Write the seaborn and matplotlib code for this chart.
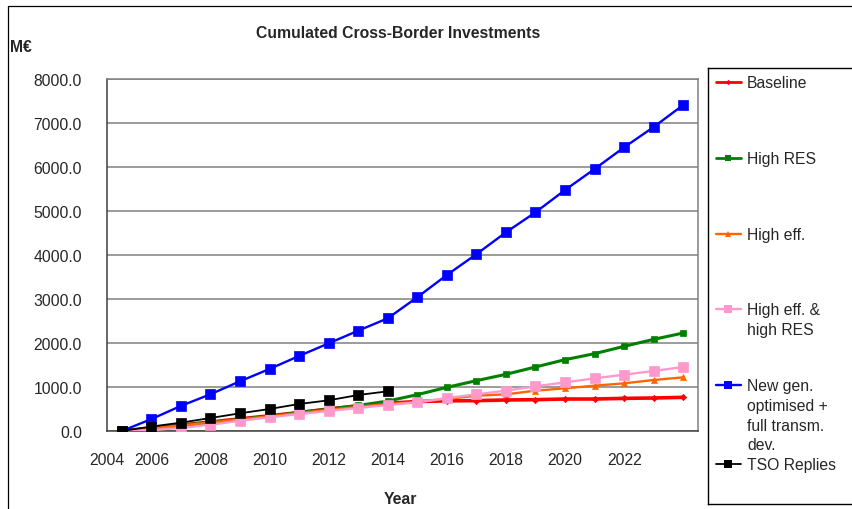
import matplotlib
matplotlib.use("Agg")
import matplotlib.pyplot as plt
from matplotlib.patches import Rectangle
import seaborn as sns
import numpy as np

# Scenario data (M€, cumulated)
years = list(range(2005, 2025))
tso_years = list(range(2005, 2015))

baseline = [0, 65, 135, 205, 275, 345, 420, 500, 570, 630, 670, 685, 690, 705, 712, 727, 727, 742, 750, 765]
high_res = [0, 60, 125, 195, 265, 340, 420, 500, 580, 680, 826, 992, 1144, 1288, 1455, 1621, 1758, 1924, 2083, 2227]
high_eff = [0, 60, 125, 195, 265, 335, 410, 480, 550, 615, 660, 727, 803, 833, 917, 970, 1030, 1083, 1159, 1220]
high_eff_res = [0, 20, 70, 143, 235, 310, 386, 455, 523, 590, 651, 750, 833, 917, 1015, 1106, 1197, 1280, 1364, 1455]
new_gen = [0, 270, 570, 835, 1130, 1410, 1705, 1992, 2280, 2561, 3040, 3545, 4018, 4515, 4970, 5477, 5955, 6447, 6909, 7409]
tso_replies = [0, 100, 190, 295, 402, 500, 614, 697, 818, 902]

series_labels = ["Baseline", "High RES", "High eff.", "High eff. &\nhigh RES",
                 "New gen.\noptimised +\nfull transm.\ndev.", "TSO Replies"]
series_x = [years, years, years, years, years, tso_years]
series_y = [baseline, high_res, high_eff, high_eff_res, new_gen, tso_replies]
series_colors = ["#ff0000", "#008000", "#ff6600", "#ff99cc", "#0000ff", "#000000"]
series_markers = ["D", "s", "^", "s", "s", "s"]
series_msize = [3.2, 4.5, 4.5, 7.0, 7.0, 7.0]
series_lw = [2.6, 2.2, 1.7, 1.7, 1.7, 1.3]

x_tick_labels = ["2004", "2006", "2008", "2010", "2012", "2014", "2016", "2018", "2020", "2022"]
x_label_pos = [2004.5, 2006, 2008, 2010, 2012, 2014, 2016, 2018, 2020, 2022]
y_ticks = [0, 1000, 2000, 3000, 4000, 5000, 6000, 7000, 8000]

sns.set_style("white")
plt.rcParams["font.family"] = ["Liberation Sans", "DejaVu Sans"]
FS = 11.3

W, H = 853, 510
fig = plt.figure(figsize=(W / 100, H / 100), dpi=100)

# chart frame
fig.patches.append(Rectangle((8 / W, -0.1), 2.0, 1.1 - 7 / H, transform=fig.transFigure,
                             fill=False, edgecolor="black", linewidth=0.9))

ax = fig.add_axes([107 / W, 1 - 432 / H, (698 - 107) / W, (432 - 80) / H])

for xs, ys, c, m, ms, lw in zip(series_x, series_y, series_colors, series_markers,
                                series_msize, series_lw):
    sns.lineplot(x=xs, y=ys, ax=ax, color=c, marker=m, markersize=ms, linewidth=lw,
                 markeredgecolor=c, markerfacecolor=c, markeredgewidth=0.5, zorder=3)

ax.set_xlim(2004.5, 2024.5)
ax.set_ylim(0, 8000)

# y axis
ax.set_yticks(y_ticks)
ax.set_yticklabels([f"{v:.1f}" for v in y_ticks], fontsize=FS)
ax.tick_params(axis="y", direction="out", length=6, width=1.0, color="#404040", pad=12)
ax.yaxis.grid(True, color="#808080", linewidth=1.1)
ax.xaxis.grid(False)

# x axis: tick marks between categories, labels on categories
ax.xaxis.remove_overlapping_locs = False
ax.set_xticks(np.arange(2004.5, 2025, 1.0))
ax.set_xticklabels([])
ax.set_xticks(x_label_pos, minor=True)
ax.set_xticklabels(x_tick_labels, minor=True, fontsize=FS)
ax.tick_params(axis="x", which="major", direction="out", length=5, width=1.0, color="#404040")
ax.tick_params(axis="x", which="minor", length=0, pad=15)

for side in ["top", "right"]:
    ax.spines[side].set_color("#808080")
    ax.spines[side].set_linewidth(1.1)
for side in ["left", "bottom"]:
    ax.spines[side].set_color("#404040")
    ax.spines[side].set_linewidth(1.1)
ax.set_xlabel("")
ax.set_ylabel("")

fig.text(398 / W, 1 - 33 / H, "Cumulated Cross-Border Investments", ha="center", va="center",
         fontsize=FS, fontweight="bold")
fig.text(10 / W, 1 - 47 / H, "M€", ha="left", va="center", fontsize=FS, fontweight="bold")
fig.text(400 / W, 1 - 500 / H, "Year", ha="center", va="center", fontsize=FS, fontweight="bold")

# legend panel: key on the first text line of each entry
lax = fig.add_axes([708 / W, 1 - 505 / H, 160 / W, (505 - 69) / H])
lax.set_xlim(708, 868)
lax.set_ylim(505, 69)
lax.set_xticks([])
lax.set_yticks([])
for s in lax.spines.values():
    s.set_color("black")
    s.set_linewidth(1.0)
entry_y = [82.5, 158.5, 234.5, 309.5, 386, 464.5]
for lab, c, m, ms, lw, yy in zip(series_labels, series_colors, series_markers,
                                 series_msize, series_lw, entry_y):
    lax.plot([716, 741], [yy, yy], color=c, linewidth=min(lw, 2.0))
    lax.plot([728.5], [yy], color=c, marker=m, markersize=ms * 0.85, markeredgewidth=0)
    lax.text(747, yy - 6.5, lab, ha="left", va="top", fontsize=FS,
             linespacing=1.38)

fig.savefig("out.png", dpi=100)
